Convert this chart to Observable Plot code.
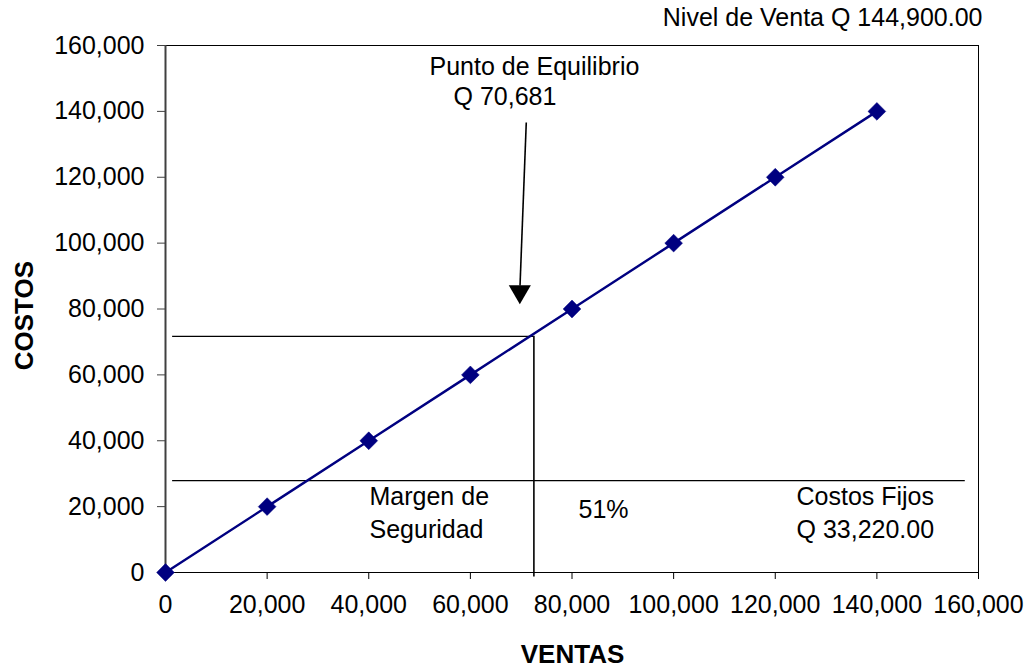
<!DOCTYPE html>
<html>
<head>
<meta charset="utf-8">
<script src="https://cdn.jsdelivr.net/npm/d3@7"></script>
<script src="https://cdn.jsdelivr.net/npm/@observablehq/plot@0.6"></script>
<style>
  html, body { margin: 0; padding: 0; background: #fff; }
  #chart svg { display: block; font-family: "Liberation Sans", Arial, Helvetica, sans-serif; }
</style>
</head>
<body>
<div id="chart"></div>
<script>
// ---- data ----
const ventas = [0, 20000, 40000, 60000, 80000, 100000, 120000, 140000];
const costos = [0, 20000, 40000, 60000, 80000, 100000, 120000, 140000];
const xTicks = [0, 20000, 40000, 60000, 80000, 100000, 120000, 140000, 160000];
const yTicks = [0, 20000, 40000, 60000, 80000, 100000, 120000, 140000, 160000];
const equilibrioX = 72500;   // vertical guide (as drawn)
const equilibrioY = 71700;   // horizontal guide (as drawn)
const costosFijosNivel = 27900; // fixed-cost guide (as drawn)
const guiaInicio = 1400;
const guiaFinFijos = 157400;
const ejeInferior = -1400;
const flechaInicio = {x: 71000, y: 136600};
const flechaFin = {x: 69770, y: 87100};
const flechaPunta = {x: 69730, y: 85300};
const anotaciones = [
  {text: "Punto de Equilibrio", x: 51950, y: 150900},
  {text: "Q 70,681", x: 56680, y: 141800},
  {text: "Margen de", x: 40150, y: 20350},
  {text: "Seguridad", x: 40150, y: 10330},
  {text: "51%", x: 81280, y: 16400},
  {text: "Costos Fijos", x: 124180, y: 20350},
  {text: "Q 33,220.00", x: 124180, y: 10330}
];
const nivelVenta = {text: "Nivel de Venta Q 144,900.00", x: 160780, y: 165770};
const tituloX = {text: "VENTAS", x: 80100, y: -27600};
const tituloY = {text: "COSTOS", x: -26000, y: 78000};

const puntos = ventas.map((v, i) => ({x: v, y: costos[i]}));
const fmt = d3.format(",");

const chart = Plot.plot({
  width: 1031,
  height: 668,
  marginLeft: 165,
  marginRight: 53,
  marginTop: 45,
  marginBottom: 96,
  style: {fontSize: "25px", fontFamily: "\"Liberation Sans\", Arial, sans-serif", color: "#000", background: "#fff"},
  x: {domain: [0, 160000]},
  y: {domain: [0, 160000]},
  marks: [
    Plot.frame({stroke: "#000", strokeWidth: 1}),
    // guides
    Plot.ruleY([costosFijosNivel], {x1: guiaInicio, x2: guiaFinFijos, stroke: "#000", strokeWidth: 1.4}),
    Plot.ruleY([equilibrioY], {x1: guiaInicio, x2: equilibrioX, stroke: "#000", strokeWidth: 1.4}),
    Plot.ruleX([equilibrioX], {y1: ejeInferior, y2: equilibrioY, stroke: "#000", strokeWidth: 1.6}),
    // axes
    Plot.axisX({ticks: xTicks, tickSize: 7, tickPadding: 16, tickFormat: fmt, label: null, fontSize: 25, stroke: "#000"}),
    Plot.axisY({ticks: yTicks, tickSize: 8, tickPadding: 13, tickFormat: fmt, label: null, fontSize: 25, stroke: "#404040"}),
    Plot.ruleY([0], {stroke: "#000", strokeWidth: 1.2}),
    Plot.ruleX([0], {stroke: "#404040", strokeWidth: 2}),
    // cost line
    Plot.line(puntos, {x: "x", y: "y", stroke: "#000080", strokeWidth: 2.4}),
    Plot.dot(puntos, {x: "x", y: "y", symbol: "diamond2", r: 8, fill: "#000080", stroke: "#000080", strokeWidth: 0.5}),
    // arrow
    Plot.link([0], {x1: () => flechaInicio.x, y1: () => flechaInicio.y, x2: () => flechaFin.x, y2: () => flechaFin.y, stroke: "#000", strokeWidth: 1.6}),
    Plot.dot([flechaPunta], {x: "x", y: "y", symbol: "triangle", r: 8.2, rotate: 180, fill: "#000", stroke: "none"}),
    // annotations
    Plot.text(anotaciones, {x: "x", y: "y", text: "text", textAnchor: "start", lineAnchor: "bottom", fontSize: 25, fill: "#000"}),
    Plot.text([nivelVenta], {x: "x", y: "y", text: "text", textAnchor: "end", lineAnchor: "bottom", fontSize: 25, fill: "#000"}),
    // axis titles
    Plot.text([tituloX], {x: "x", y: "y", text: "text", lineAnchor: "bottom", fontSize: 26, fontWeight: "bold", fill: "#000"}),
    Plot.text([tituloY], {x: "x", y: "y", text: "text", rotate: -90, lineAnchor: "bottom", fontSize: 26, fontWeight: "bold", fill: "#000"})
  ]
});
document.getElementById("chart").appendChild(chart);
</script>
</body>
</html>
